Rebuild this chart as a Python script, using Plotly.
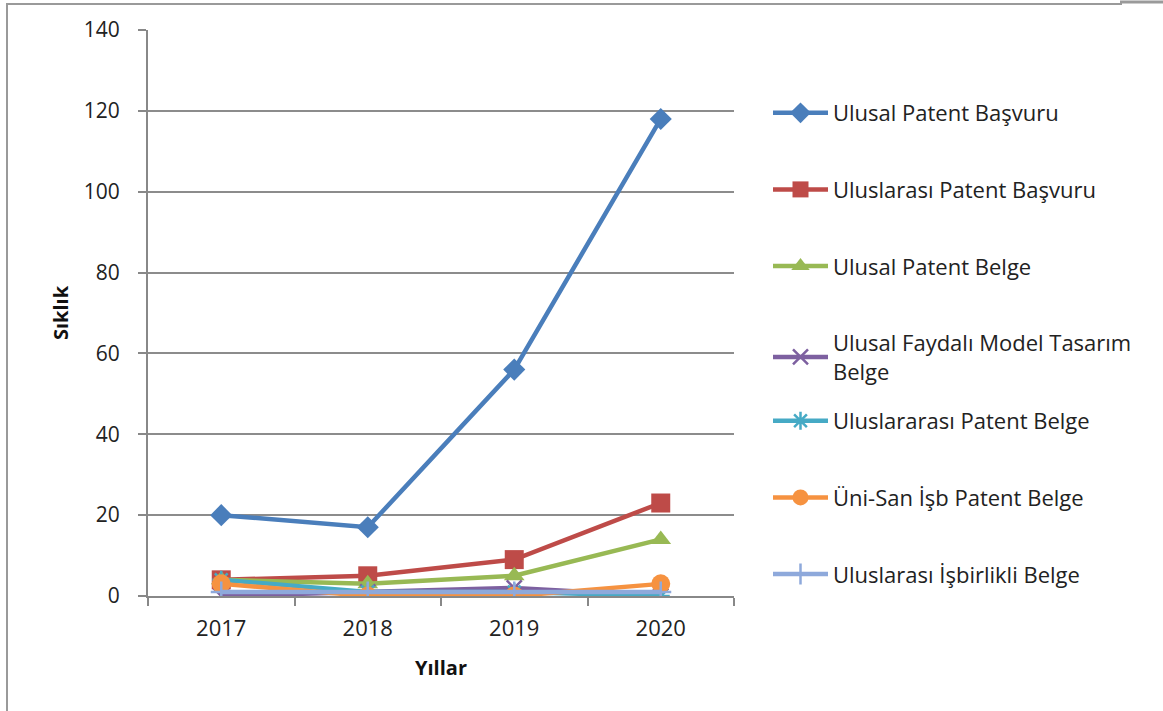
import plotly.graph_objects as go

years = ["2017", "2018", "2019", "2020"]

ulusal_patent_basvuru = [20, 17, 56, 118]
uluslarasi_patent_basvuru = [4, 5, 9, 23]
ulusal_patent_belge = [4, 3, 5, 14]
ulusal_faydali_model = [0, 1, 2, 0]
uluslararasi_patent_belge = [4, 1, 1, 0]
uni_san_isb = [3, 0, 0, 3]
uluslarasi_isbirlikli = [1, 1, 1, 1]

series_names = [
    "Ulusal Patent Başvuru",
    "Uluslarası Patent Başvuru",
    "Ulusal Patent Belge",
    "Ulusal Faydalı Model Tasarım<br>Belge",
    "Uluslararası Patent Belge",
    "Üni-San İşb Patent Belge",
    "Uluslarası İşbirlikli Belge",
]
series_values = [
    ulusal_patent_basvuru,
    uluslarasi_patent_basvuru,
    ulusal_patent_belge,
    ulusal_faydali_model,
    uluslararasi_patent_belge,
    uni_san_isb,
    uluslarasi_isbirlikli,
]
colors = ["#4A7EBB", "#BE4B48", "#98B954", "#7D60A0", "#46AAC5", "#F69240", "#8EA9DB"]
symbols = ["diamond", "square", "triangle-up", "x-thin", "asterisk", "circle", "cross-thin"]
sizes = [17, 19, 18, 15, 15, 19, 15]

W, H = 1163, 711
L, R, T, B = 148, 734, 30, 596
FONT = "Open Sans, Lato, sans-serif"

fig = go.Figure()
for i, (name, vals) in enumerate(zip(series_names, series_values)):
    thin = symbols[i] in ("x-thin", "asterisk", "cross-thin")
    fig.add_trace(go.Scatter(
        x=years, y=vals, name=name, mode="lines+markers",
        legendgroup=f"g{i}",
        legend="legend" if i < 4 else "legend2",
        line=dict(color=colors[i], width=4.5),
        marker=dict(symbol=symbols[i], size=sizes[i], color=colors[i],
                    line=dict(color=colors[i], width=2.5 if thin else 0)),
    ))

def px(x):
    return (x - L) / (R - L)

def py(y):
    return (B - y) / (B - T)

shapes = [
    dict(type="line", xref="paper", yref="paper", x0=px(7), x1=px(7), y0=py(5), y1=py(711),
         line=dict(color="#9a9a9a", width=2)),
    dict(type="line", xref="paper", yref="paper", x0=px(6), x1=px(1122), y0=py(4), y1=py(4),
         line=dict(color="#9a9a9a", width=2)),
    dict(type="line", xref="paper", yref="paper", x0=px(1120), x1=px(1163), y0=py(2), y1=py(2),
         line=dict(color="#9a9a9a", width=3)),
]

legend_common = dict(
    xanchor="left", yanchor="top",
    font=dict(family=FONT, size=22, color="#222222"),
    tracegroupgap=45, itemwidth=55,
    bgcolor="rgba(0,0,0,0)",
)

fig.update_layout(
    width=W, height=H,
    margin=dict(l=L, r=W - R, t=T, b=H - B, autoexpand=False),
    paper_bgcolor="white", plot_bgcolor="white",
    font=dict(family=FONT, size=20, color="#222222"),
    showlegend=True,
    legend=dict(x=px(768), y=py(92), **legend_common),
    legend2=dict(x=px(768), y=py(400), **legend_common),
    xaxis=dict(
        type="category", range=[-0.5, 3.5],
        showgrid=False, showline=True, linecolor="#888888", linewidth=2,
        ticks="outside", tickson="boundaries", ticklen=8, tickcolor="#888888", tickwidth=1.5,
        tickfont=dict(family=FONT, size=22, color="#222222"),
        ticklabelstandoff=12,
        title=dict(text="<b>Yıllar</b>", font=dict(family=FONT, size=20, color="#111111"), standoff=20),
        zeroline=False,
    ),
    yaxis=dict(
        range=[0, 140], dtick=20,
        showgrid=True, gridcolor="#8c8c8c", gridwidth=2,
        showline=True, linecolor="#888888", linewidth=2,
        ticks="outside", ticklen=8, tickcolor="#888888", tickwidth=1.5,
        tickfont=dict(family=FONT, size=21, color="#222222"),
        ticklabelstandoff=14,
        title=dict(text="<b>Sıklık</b>", font=dict(family=FONT, size=20, color="#111111"), standoff=10),
        zeroline=False,
    ),
    shapes=shapes,
)

fig.write_html("out.html")
